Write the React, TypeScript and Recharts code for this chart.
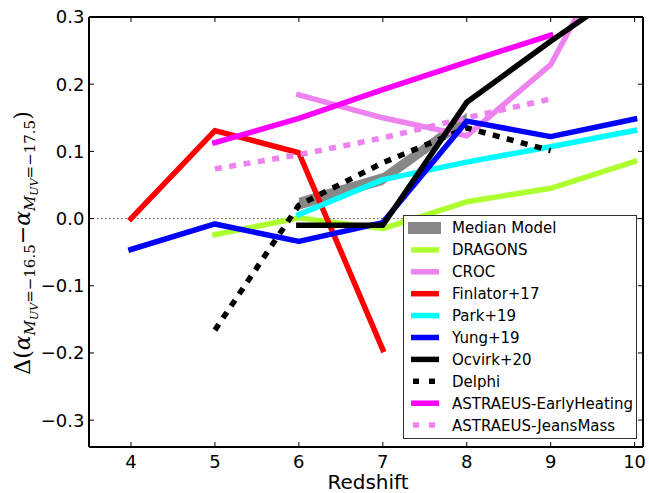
import { ComposedChart, Line, Area, XAxis, YAxis, ReferenceLine } from 'recharts'

const redshift = [4, 5, 6, 7, 8, 9, 10]
const dragons = [null, -0.024, 0.001, -0.015, 0.025, 0.045, 0.085]
const croc = [null, null, 0.184, 0.15, 0.123, 0.229, 0.46]
const finlator = [0.0, 0.131, 0.098, -0.195, null, null, null]
const park = [null, null, 0.006, 0.058, 0.084, 0.107, 0.131]
const yung = [-0.046, -0.008, -0.034, -0.006, 0.145, 0.122, 0.148]
const ocvirk = [null, null, -0.01, -0.01, 0.173, 0.264, 0.35]
const delphi = [null, -0.166, 0.02, 0.083, 0.135, 0.101, null]
const earlyHeating = [null, 0.113, 0.149, 0.192, 0.233, 0.273, null]
const jeansMass = [null, 0.074, 0.095, 0.12, 0.15, 0.178, null]
const medianLow = [null, null, 0.013, 0.05, 0.14, null, null]
const medianHigh = [null, null, 0.031, 0.068, 0.157, null, null]

const xTicks = [4, 5, 6, 7, 8, 9, 10]
const yTicks = [-0.3, -0.2, -0.1, 0.0, 0.1, 0.2, 0.3]

const data = redshift.map((z, i) => ({
  z,
  dragons: dragons[i],
  croc: croc[i],
  finlator: finlator[i],
  park: park[i],
  yung: yung[i],
  ocvirk: ocvirk[i],
  delphi: delphi[i],
  earlyHeating: earlyHeating[i],
  jeansMass: jeansMass[i],
  median: medianLow[i] == null ? null : [medianLow[i], medianHigh[i]],
}))

const legendItems = [
  { label: 'Median Model', color: '#888888', kind: 'patch' },
  { label: 'DRAGONS', color: '#adff2f', kind: 'solid' },
  { label: 'CROC', color: '#ee82ee', kind: 'solid' },
  { label: 'Finlator+17', color: '#ff0000', kind: 'solid' },
  { label: 'Park+19', color: '#00ffff', kind: 'solid' },
  { label: 'Yung+19', color: '#0000ff', kind: 'solid' },
  { label: 'Ocvirk+20', color: '#000000', kind: 'solid' },
  { label: 'Delphi', color: '#000000', kind: 'dotted' },
  { label: 'ASTRAEUS-EarlyHeating', color: '#ff00ff', kind: 'solid' },
  { label: 'ASTRAEUS-JeansMass', color: '#ee82ee', kind: 'dotted' },
]

const FONT = '"DejaVu Sans", sans-serif'
const LW = 5.5
const DOT = '7 7.5'

const fmt = (v: number) => {
  const s = Math.abs(v).toFixed(1)
  return v < -1e-9 ? '\u2212' + s : s
}

function BottomTick({ x, y, payload }: any) {
  return (
    <g>
      <line x1={x} x2={x} y1={y} y2={y - 5} stroke="#000" strokeWidth={1} />
      <text x={x} y={y + 21} textAnchor="middle" fontFamily={FONT} fontSize={18} fill="#000">
        {payload.value}
      </text>
    </g>
  )
}

function LeftTick({ x, y, payload }: any) {
  return (
    <g>
      <line x1={x} x2={x + 5} y1={y} y2={y} stroke="#000" strokeWidth={1} />
      <text x={x - 4.5} y={y} dy="0.36em" textAnchor="end" fontFamily={FONT} fontSize={18} fill="#000">
        {fmt(payload.value)}
      </text>
    </g>
  )
}

function TopTick({ x, y }: any) {
  return <line x1={x} x2={x} y1={y} y2={y + 5} stroke="#000" strokeWidth={1} />
}

function RightTick({ x, y }: any) {
  return <line x1={x} x2={x - 5} y1={y} y2={y} stroke="#000" strokeWidth={1} />
}

function XLabel({ viewBox }: any) {
  const { x, y, width } = viewBox
  return (
    <text x={x + width / 2 + 2} y={y + 42} textAnchor="middle" fontFamily={FONT} fontSize={20} fill="#000">
      Redshift
    </text>
  )
}

function YLabel() {
  const serif = '"DejaVu Serif", serif'
  return (
    <text transform="translate(30, 243) rotate(-90)" textAnchor="middle" fontFamily={serif} fontSize={22} fill="#000">
      <tspan>Δ(</tspan>
      <tspan fontStyle="italic">α</tspan>
      <tspan fontStyle="italic" fontSize={15} dy={5}>M</tspan>
      <tspan fontStyle="italic" fontSize={11} dy={3}>UV</tspan>
      <tspan fontSize={15} dy={-3}>=−16.5</tspan>
      <tspan dy={-5}>−</tspan>
      <tspan fontStyle="italic">α</tspan>
      <tspan fontStyle="italic" fontSize={15} dy={5}>M</tspan>
      <tspan fontStyle="italic" fontSize={11} dy={3}>UV</tspan>
      <tspan fontSize={15} dy={-3}>=−17.5</tspan>
      <tspan dy={-5}>)</tspan>
    </text>
  )
}

function LegendBox() {
  const w = 234
  const h = 224
  return (
    <svg width={w} height={h} style={{ display: 'block', position: 'absolute', left: 403, top: 215 }}>
      <rect x={0.5} y={0.5} width={w - 1} height={h - 1} fill="#fff" stroke="#333" strokeWidth={1} />
      {legendItems.map((it, i) => {
        const cy = 13 + i * 21.9
        let sample
        if (it.kind === 'patch') {
          sample = <rect x={5} y={cy - 6} width={33} height={12} fill={it.color} />
        } else if (it.kind === 'dotted') {
          sample = <line x1={10} x2={36} y1={cy} y2={cy} stroke={it.color} strokeWidth={LW} strokeDasharray="6 10" />
        } else {
          sample = <line x1={8} x2={36} y1={cy} y2={cy} stroke={it.color} strokeWidth={LW} />
        }
        return (
          <g key={it.label}>
            {sample}
            <text x={49} y={cy} dy="0.36em" fontFamily={FONT} fontSize={15} fill="#000">
              {it.label}
            </text>
          </g>
        )
      })}
    </svg>
  )
}

export default function App() {
  const line = (key: string, color: string, dotted = false, onFrame = false) => (
    <Line
      key={key}
      type="linear"
      dataKey={key}
      xAxisId={onFrame ? 'top' : 0}
      yAxisId={onFrame ? 'right' : 0}
      stroke={color}
      strokeWidth={LW}
      strokeDasharray={dotted ? DOT : undefined}
      strokeLinecap={dotted ? 'butt' : 'square'}
      strokeLinejoin="round"
      dot={false}
      activeDot={false}
      legendType="none"
      isAnimationActive={false}
    />
  )

  return (
    <div style={{ position: 'fixed', left: 0, top: 0, width: 649, height: 493, background: '#fff' }}>
      <ComposedChart width={649} height={493} data={data} margin={{ top: 16, right: 5, bottom: 16, left: 29 }}>
        <XAxis
          dataKey="z"
          type="number"
          domain={[3.5, 10.1]}
          ticks={xTicks}
          interval={0}
          allowDataOverflow
          height={30}
          tickSize={0}
          tickMargin={0}
          tick={<BottomTick />}
          axisLine={{ stroke: '#000', strokeWidth: 2 }}
          label={<XLabel />}
        />
        <XAxis
          xAxisId="top"
          orientation="top"
          dataKey="z"
          type="number"
          domain={[3.5, 10.1]}
          ticks={xTicks}
          interval={0}
          allowDataOverflow
          height={1}
          tickSize={0}
          tickMargin={0}
          tick={<TopTick />}
          axisLine={{ stroke: '#000', strokeWidth: 2 }}
        />
        <YAxis
          type="number"
          domain={[-0.34, 0.3]}
          ticks={yTicks}
          interval={0}
          allowDataOverflow
          width={60}
          tickSize={0}
          tickMargin={0}
          tick={<LeftTick />}
          axisLine={{ stroke: '#000', strokeWidth: 2 }}
          label={<YLabel />}
        />
        <YAxis
          yAxisId="right"
          orientation="right"
          type="number"
          domain={[-0.34, 0.3]}
          ticks={yTicks}
          interval={0}
          allowDataOverflow
          width={1}
          tickSize={0}
          tickMargin={0}
          tick={<RightTick />}
          axisLine={{ stroke: '#000', strokeWidth: 2 }}
        />
        <ReferenceLine y={0} stroke="#555" strokeWidth={1} strokeDasharray="1.5 2.5" />
        {line('dragons', '#adff2f')}
        {line('croc', '#ee82ee')}
        {line('finlator', '#ff0000')}
        {line('park', '#00ffff')}
        <Area
          type="linear"
          dataKey="median"
          stroke="none"
          fill="#000"
          fillOpacity={0.47}
          legendType="none"
          isAnimationActive={false}
        />
        {line('earlyHeating', '#ff00ff')}
        {line('jeansMass', '#ee82ee', true)}
        {line('delphi', '#000000', true)}
        {line('yung', '#0000ff')}
        {line('ocvirk', '#000000', false, true)}
      </ComposedChart>
      <LegendBox />
    </div>
  )
}
